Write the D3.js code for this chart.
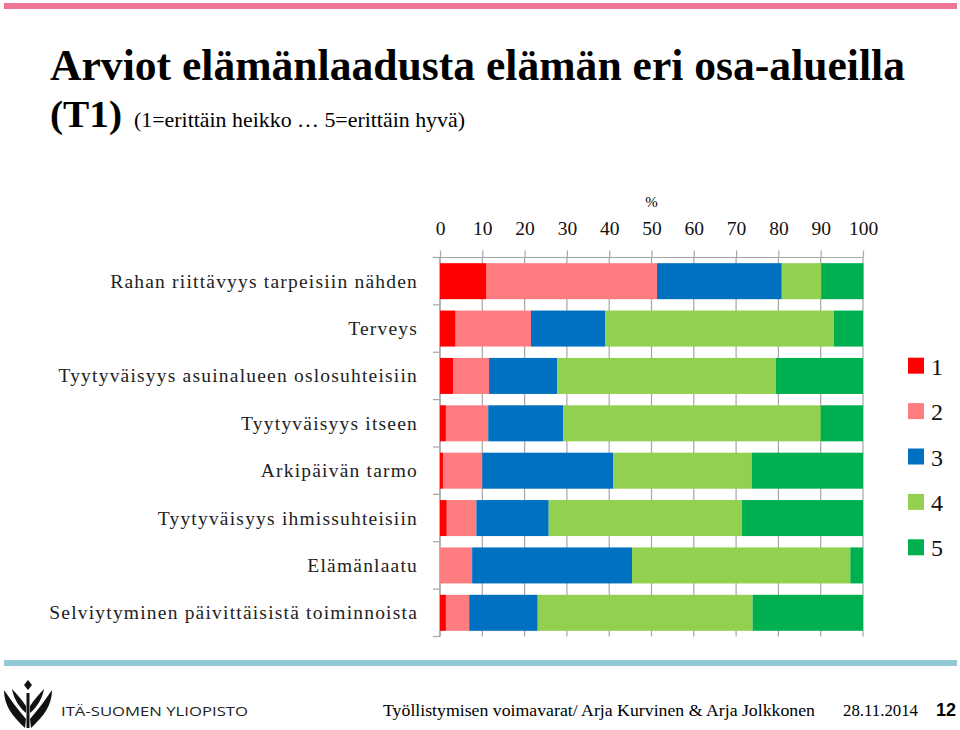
<!DOCTYPE html>
<html><head><meta charset="utf-8">
<script src="https://cdn.jsdelivr.net/npm/d3@7"></script>
<style>
html,body{margin:0;padding:0;background:#fff;}
svg{display:block;}
</style></head>
<body>
<svg id="c" width="960" height="730"></svg>
<script>
// ---- data ----
const categories = [
  "Rahan riittävyys tarpeisiin nähden",
  "Terveys",
  "Tyytyväisyys asuinalueen oslosuhteisiin",
  "Tyytyväisyys itseen",
  "Arkipäivän tarmo",
  "Tyytyväisyys ihmissuhteisiin",
  "Elämänlaatu",
  "Selviytyminen päivittäisistä toiminnoista"
];
const seriesNames = ["1","2","3","4","5"];
const s1 = [11.0, 3.7, 3.1, 1.4, 0.7, 1.6, 0.0, 1.4];
const s2 = [40.3, 17.8, 8.5, 10.0, 9.3, 7.0, 7.6, 5.5];
const s3 = [29.5, 17.6, 16.1, 17.7, 31.0, 17.1, 37.8, 16.2];
const s4 = [9.3, 54.0, 51.7, 60.9, 32.7, 45.7, 51.6, 50.8];
const s5 = [10.0, 6.9, 20.6, 10.0, 26.3, 28.6, 3.0, 26.1];
const tickValues = [0,10,20,30,40,50,60,70,80,90,100];
const colors = ["#FF0000","#FF7C80","#0070C0","#92D050","#00B050"];

const svg = d3.select("#c");

// decorative lines
svg.append("rect").attr("x",4).attr("y",3).attr("width",953).attr("height",6).attr("fill","#EE7596");
svg.append("rect").attr("x",4).attr("y",660).attr("width",953).attr("height",6).attr("fill","#93C9D5");

// title
const serif = "'Liberation Serif','Times New Roman',serif";
svg.append("text").attr("x",50).attr("y",80)
  .attr("font-family",serif).attr("font-weight","bold").attr("font-size",44)
  .attr("textLength",855).attr("lengthAdjust","spacingAndGlyphs")
  .text("Arviot elämänlaadusta elämän eri osa-alueilla");
svg.append("text").attr("x",50).attr("y",127)
  .attr("font-family",serif).attr("font-weight","bold").attr("font-size",38)
  .attr("textLength",72).attr("lengthAdjust","spacingAndGlyphs")
  .text("(T1)");
svg.append("text").attr("x",134).attr("y",127)
  .attr("font-family",serif).attr("font-size",21)
  .attr("textLength",331).attr("lengthAdjust","spacingAndGlyphs")
  .text("(1=erittäin heikko … 5=erittäin hyvä)");

// scales
const x = d3.scaleLinear().domain([0,100]).range([440,863]);
const y = d3.scaleBand().domain(categories).range([257.5,636.5]).paddingInner(0.24).paddingOuter(0.12);

// gridlines
svg.append("g").selectAll("line").data(tickValues).join("line")
  .attr("x1",d=>x(d)).attr("x2",d=>x(d)).attr("y1",257.5).attr("y2",636.5)
  .attr("stroke","#A6A6A6").attr("stroke-width",1.2);

// top axis
const gx = svg.append("g").attr("transform","translate(0,257.5)")
  .call(d3.axisTop(x).tickValues(tickValues).tickSize(7).tickSizeOuter(0).tickPadding(16).tickFormat(d3.format("d")));
gx.select(".domain").attr("stroke","#A6A6A6").attr("stroke-width",1.2)
  .attr("d","M433,0H"+x(100));
gx.selectAll(".tick line").attr("stroke","#A6A6A6").attr("stroke-width",1.2);
gx.selectAll(".tick text").attr("font-family",serif).attr("font-size",19.5).attr("fill","#111");
svg.append("text").attr("x",x(50)).attr("y",207).attr("text-anchor","middle")
  .attr("font-family",serif).attr("font-size",15).text("%");

// left axis (boundary ticks)
const step = y.step();
const bounds = categories.map(c => y(c) - y.paddingInner()*step/2).concat([636.5]);
bounds[0] = 257.5;
svg.append("line").attr("x1",440).attr("x2",440).attr("y1",257.5).attr("y2",636.5)
  .attr("stroke","#A6A6A6").attr("stroke-width",1.2);
svg.append("g").selectAll("line").data(bounds).join("line")
  .attr("x1",433).attr("x2",440).attr("y1",d=>d).attr("y2",d=>d)
  .attr("stroke","#A6A6A6").attr("stroke-width",1.2);

// category labels
svg.append("g").selectAll("text").data(categories).join("text")
  .attr("x",418).attr("y",d=>y(d)+y.bandwidth()/2+6.5)
  .attr("text-anchor","end").attr("font-family",serif).attr("font-size",19.5)
  .attr("letter-spacing","1.2px").attr("fill","#222")
  .text(d=>d);

// stacked bars
const rows = categories.map((c,i)=>({cat:c, "1":s1[i], "2":s2[i], "3":s3[i], "4":s4[i], "5":s5[i]}));
const stacked = d3.stack().keys(seriesNames)(rows);
svg.append("g").selectAll("g").data(stacked).join("g")
  .attr("fill",(d,i)=>colors[i])
  .selectAll("rect").data(d=>d).join("rect")
  .attr("x",d=>x(d[0])).attr("width",d=>Math.max(0,x(d[1])-x(d[0])))
  .attr("y",d=>y(d.data.cat)).attr("height",y.bandwidth());

// legend
const lg = svg.append("g").selectAll("g").data(seriesNames).join("g")
  .attr("transform",(d,i)=>`translate(908,${365.7+i*45.4})`);
lg.append("rect").attr("x",0).attr("y",-8).attr("width",16).attr("height",16).attr("fill",(d,i)=>colors[i]);
lg.append("text").attr("x",23).attr("y",9).attr("font-family",serif).attr("font-size",24).attr("fill","#111").text(d=>d);

// footer logo
const logo = svg.append("g").attr("fill","#111");
logo.append("path").attr("d","M28,680 L32,685 L28,690 L24,685 Z");
logo.append("path").attr("d","M4,690 C4,705 12,716 25,728 L26,719 C18,710 11,700 4,690 Z");
logo.append("path").attr("d","M52,690 C52,705 44,716 31,728 L30,719 C38,710 45,700 52,690 Z");
logo.append("path").attr("d","M12,689 C14,700 20,708 26,713 L26,706 C22,700 17,694 12,689 Z");
logo.append("path").attr("d","M44,689 C42,700 36,708 30,713 L30,706 C34,700 39,694 44,689 Z");
logo.append("path").attr("d","M26.5,693 L29.5,693 L29.5,728 L26.5,728 Z");
svg.append("text").attr("x",61).attr("y",716).attr("font-family","'Open Sans','DejaVu Sans',sans-serif")
  .attr("font-size",13.5).attr("textLength",187).attr("lengthAdjust","spacingAndGlyphs").attr("fill","#222")
  .text("ITÄ-SUOMEN YLIOPISTO");

// footer text
svg.append("text").attr("x",383).attr("y",716).attr("font-family",serif).attr("font-size",17)
  .attr("textLength",432).attr("lengthAdjust","spacingAndGlyphs")
  .text("Työllistymisen voimavarat/  Arja Kurvinen & Arja Jolkkonen");
svg.append("text").attr("x",843).attr("y",716).attr("font-family",serif).attr("font-size",16)
  .attr("textLength",75).attr("lengthAdjust","spacingAndGlyphs")
  .text("28.11.2014");
svg.append("text").attr("x",936).attr("y",716).attr("font-family","'Liberation Sans',Arial,sans-serif")
  .attr("font-weight","bold").attr("font-size",18).text("12");
</script>
</body></html>
